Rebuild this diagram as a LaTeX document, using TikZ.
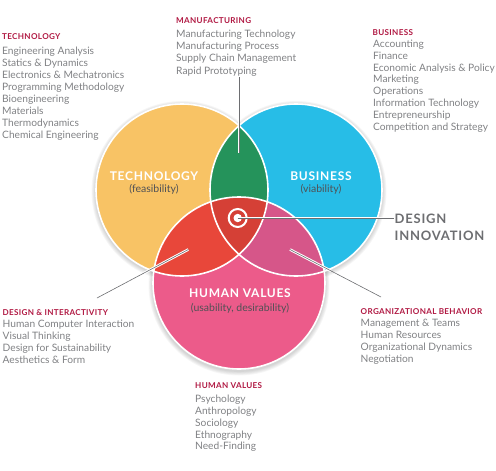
\documentclass[tikz,border=0pt]{standalone}
\usepackage{fontspec}
\usetikzlibrary{calc}
\setmainfont{Lato}
\newfontfamily\spacedfont[LetterSpace=6]{Lato}
\newfontfamily\wideheadfont[LetterSpace=4]{Lato}
\definecolor{cyellow}{HTML}{F8C365}
\definecolor{cblue}{HTML}{27BDE7}
\definecolor{cpink}{HTML}{EC5B8A}
\definecolor{cgreen}{HTML}{25935B}
\definecolor{cred}{HTML}{E8473A}
\definecolor{cmag}{HTML}{D65689}
\definecolor{ccenter}{HTML}{D54036}
\definecolor{crim}{HTML}{B01842}
\definecolor{bodygray}{HTML}{808184}
\definecolor{dgray}{HTML}{505155}
\definecolor{linegray}{HTML}{6D6E71}
\tikzset{
  listtext/.style={inner sep=0pt, anchor=base west, text=bodygray, font=\fontsize{10.2}{12}\selectfont},
  headtext/.style={inner sep=0pt, anchor=base west, text=crim, font=\wideheadfont\bfseries\fontsize{8.1}{9}\selectfont},
  circtitle/.style={inner sep=0pt, anchor=base, text=white, font=\spacedfont\bfseries\fontsize{12}{14}\selectfont},
  circsub/.style={inner sep=0pt, anchor=base, text=dgray, font=\fontsize{10.5}{12}\selectfont},
  bigtext/.style={inner sep=0pt, anchor=base west, text=linegray, font=\spacedfont\bfseries\fontsize{13}{16}\selectfont},
  ring/.style={radius=86pt},
  outline/.style={draw=white, line width=1.6pt},
  casing/.style={draw=white, line width=2.6pt},
  leader/.style={draw=linegray, line width=0.6pt},
}
\begin{document}
\begin{tikzpicture}[x=1pt,y=-1pt]
\useasboundingbox (0,0) rectangle (496,471);
\coordinate (T) at (182,190);
\coordinate (B) at (296,190);
\coordinate (H) at (239,283);
% soft shadows
\foreach \k in {1,...,5}{
  \fill[black, opacity=0.035] ([yshift=-1.5pt]T) circle[radius={86pt+\k*0.9pt}];
  \fill[black, opacity=0.035] ([yshift=-1.5pt]B) circle[radius={86pt+\k*0.9pt}];
  \fill[black, opacity=0.035] ([yshift=-2pt]H) circle[radius={86pt+\k*0.9pt}];
}
% circles
\fill[cyellow] (T) circle[ring];
\fill[cblue] (B) circle[ring];
\fill[cpink] (H) circle[ring];
\begin{scope}
  \clip (B) circle[ring];
  \fill[cmag] (H) circle[ring];
\end{scope}
\begin{scope}
  \clip (T) circle[ring];
  \fill[cgreen] (B) circle[ring];
  \fill[cred] (H) circle[ring];
  \clip (B) circle[ring];
  \fill[ccenter] (H) circle[ring];
\end{scope}
\draw[outline] (T) circle[ring];
\draw[outline] (B) circle[ring];
\draw[outline] (H) circle[ring];

% circle labels
\node[circtitle] (techtitle) at (154,180) {TECHNOLOGY};
\node[circsub] (techsub) at (154,192.5) {(feasibility)};
\node[circtitle] (bustitle) at (321,180) {BUSINESS};
\node[circsub] (bussub) at (321,192.5) {(viability)};
\node[circtitle] (humtitle) at (240,297.5) {HUMAN VALUES};
\node[circsub] (humsub) at (240,311.5) {(usability, desirability)};

% target
\coordinate (tgt) at (237.7,218);
\draw[white, line width=2pt] (tgt) circle[radius=9pt];
\fill[white] (tgt) circle[radius=4.2pt];

% leader lines
\coordinate (dgn) at (394,218);
\path[casing] (tgt) -- (dgn);
\path[leader] (tgt) -- (dgn);

\coordinate (mfgtop) at (239,77);
\coordinate (mfgend) at (239,153);
\path[casing] (mfgtop) -- (mfgend);
\path[leader] (mfgtop) -- (mfgend);

\coordinate (diA) at (188.3,249.5);
\coordinate (diB) at (97,298);
\path[casing] (diA) -- ($(diA)!0.55!(diB)$);
\path[leader] (diA) -- (diB);

\coordinate (obA) at (290,249.5);
\coordinate (obB) at (381,297);
\path[casing] (obA) -- ($(obA)!0.45!(obB)$);
\path[leader] (obA) -- (obB);

% design innovation
\node[bigtext] (dsg) at (394.5,223) {DESIGN};
\node[bigtext] (inn) at (394.5,240.5) {INNOVATION};

% TECHNOLOGY list
\node[headtext] (techhead) at (2,39) {TECHNOLOGY};
\foreach \t [count=\i] in {Engineering Analysis, Statics \& Dynamics, Electronics \& Mechatronics, Programming Methodology, Bioengineering, Materials, Thermodynamics, Chemical Engineering}
  \node[listtext] (tech-\i) at (2,{54+12*(\i-1)}) {\t};

% MANUFACTURING list
\node[headtext] (mfghead) at (176,23.5) {MANUFACTURING};
\foreach \t [count=\i] in {Manufacturing Technology, Manufacturing Process, Supply Chain Management, Rapid Prototyping}
  \node[listtext] (mfg-\i) at (176,{37.5+12.2*(\i-1)}) {\t};

% BUSINESS list
\node[headtext] (bushead) at (372.5,35.2) {BUSINESS};
\foreach \t [count=\i] in {Accounting, Finance, Economic Analysis \& Policy, Marketing, Operations, Information Technology, Entrepreneurship, Competition and Strategy}
  \node[listtext] (bus-\i) at (373,{47.3+11.85*(\i-1)}) {\t};

% DESIGN & INTERACTIVITY list
\node[headtext] (dihead) at (2.5,315.6) {DESIGN \& INTERACTIVITY};
\foreach \t [count=\i] in {Human Computer Interaction, Visual Thinking, Design for Sustainability, Aesthetics \& Form}
  \node[listtext] (di-\i) at (2.5,{327.6+12.1*(\i-1)}) {\t};

% ORGANIZATIONAL BEHAVIOR list
\node[headtext] (obhead) at (360.5,314) {ORGANIZATIONAL BEHAVIOR};
\foreach \t [count=\i] in {Management \& Teams, Human Resources, Organizational Dynamics, Negotiation}
  \node[listtext] (ob-\i) at (360.5,{326.6+12*(\i-1)}) {\t};

% HUMAN VALUES list
\node[headtext] (hvhead) at (195,388) {HUMAN VALUES};
\foreach \t [count=\i] in {Psychology, Anthropology, Sociology, Ethnography, Need-Finding}
  \node[listtext] (hv-\i) at (195,{402.3+11.9*(\i-1)}) {\t};
\end{tikzpicture}
\end{document}
